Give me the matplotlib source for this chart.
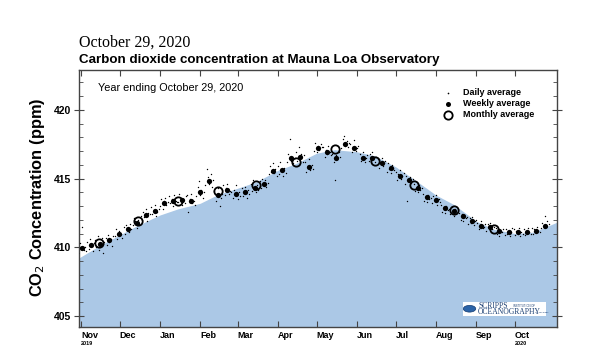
import pandas as pd
import matplotlib
matplotlib.use("Agg")
import matplotlib.pyplot as plt
import matplotlib.transforms as mtrans
from matplotlib.ticker import MultipleLocator
from matplotlib.patches import Rectangle, Circle

plt.rcParams["font.family"] = ["Liberation Sans", "DejaVu Sans"]

# smoothed seasonal curve (the blue area)
curve_dates = ["2019-10-30", "2019-11-15", "2019-12-01", "2019-12-15", "2020-01-01",
               "2020-01-15", "2020-02-01", "2020-02-15", "2020-03-01", "2020-03-15",
               "2020-04-01", "2020-04-15", "2020-05-01", "2020-05-15", "2020-06-01",
               "2020-06-15", "2020-07-01", "2020-07-15", "2020-08-01", "2020-08-15",
               "2020-09-01", "2020-09-15", "2020-10-01", "2020-10-15", "2020-11-03"]
curve_ppm = [409.2, 410.1, 410.9, 411.6, 412.35, 412.8, 413.2, 413.85, 414.3, 414.75,
             415.6, 416.1, 416.85, 417.1, 416.95, 416.65, 415.85, 414.95, 413.8, 413.1,
             411.9, 411.3, 411.0, 411.1, 411.85]

# monthly averages (mid month)
monthly_dates = ["2019-11-15", "2019-12-15", "2020-01-15", "2020-02-15", "2020-03-15",
                 "2020-04-15", "2020-05-15", "2020-06-15", "2020-07-15", "2020-08-15",
                 "2020-09-15"]
monthly_ppm = [410.3, 411.9, 413.4, 414.1, 414.5, 416.2, 417.15, 416.3, 414.5, 412.7, 411.3]

# weekly averages
weekly_start = "2019-11-02"
weekly_ppm = [409.93, 410.19, 410.22, 410.53, 410.97, 411.31, 411.79, 412.33, 412.62, 413.2,
              413.4, 413.45, 413.37, 414.0, 414.83, 413.81, 414.17, 413.9, 414.0, 414.34,
              414.6, 415.58, 415.61, 416.48, 416.6, 415.87, 417.2, 416.96, 416.53, 417.5,
              417.2, 416.53, 416.53, 416.12, 415.75, 415.22, 414.9, 414.3, 413.64, 413.45,
              412.84, 412.67, 412.28, 411.9, 411.57, 411.5, 411.19, 411.1, 411.1, 411.14,
              411.21, 411.57]

# daily averages, one row per week
daily_start = "2019-10-30"
daily_ppm = [
    409.6, 410.3, 409.9, 411.5, 409.8, 410.0, 409.7,
    410.4, 409.9, 410.6, 410.1, 409.7, 410.3, 410.5,
    410.0, 410.8, 409.8, 410.3, 410.7, 409.6, 410.4,
    410.7, 410.2, 410.9, 410.4, 410.6, 410.1, 410.8,
    410.8, 411.3, 410.6, 411.2, 410.9, 411.0, 410.7,
    411.5, 411.0, 411.6, 411.2, 411.1, 411.7, 411.3,
    411.6, 412.1, 411.9, 411.4, 412.0, 411.7, 412.3,
    412.0, 412.6, 412.2, 412.8, 411.9, 412.5, 412.4,
    412.9, 412.4, 412.7, 413.1, 412.3, 412.6, 412.8,
    413.0, 413.5, 412.8, 413.4, 413.6, 413.1, 413.3,
    413.7, 413.2, 413.5, 413.0, 413.8, 413.4, 413.3,
    413.3, 413.9, 413.6, 413.1, 413.5, 413.2, 413.7,
    413.8, 412.6, 413.5, 413.9, 413.2, 413.4, 413.1,
    413.7, 414.4, 414.8, 413.8, 414.2, 413.6, 414.0,
    414.5, 415.7, 415.1, 414.6, 415.3, 414.4, 414.9,
    414.1, 413.4, 413.9, 414.3, 413.0, 413.6, 413.9,
    414.5, 413.8, 414.3, 414.6, 413.9, 414.1, 414.0,
    413.6, 414.2, 413.8, 414.5, 413.5, 414.0, 413.7,
    414.3, 413.7, 414.1, 414.4, 413.6, 414.2, 413.9,
    414.6, 414.1, 414.9, 414.3, 414.0, 414.5, 414.2,
    414.8, 414.3, 415.0, 414.5, 414.9, 414.4, 414.7,
    415.3, 415.9, 415.5, 416.1, 415.4, 415.7, 415.2,
    415.9, 415.3, 416.2, 415.6, 415.2, 415.8, 415.4,
    416.2, 416.8, 417.9, 416.3, 416.6, 416.1, 416.5,
    416.9, 416.3, 417.3, 416.5, 416.8, 416.2, 416.7,
    416.2, 415.5, 415.9, 416.4, 415.6, 416.0, 415.7,
    417.0, 417.6, 416.9, 417.4, 417.1, 417.5, 417.3,
    417.3, 416.6, 417.1, 416.8, 417.4, 416.9, 416.7,
    416.8, 416.2, 414.9, 416.7, 416.4, 416.9, 416.6,
    417.2, 417.9, 418.1, 417.4, 417.7, 417.3, 417.6,
    417.5, 416.9, 417.3, 417.8, 417.0, 417.2, 417.4,
    416.8, 416.3, 416.6, 416.9, 416.2, 416.5, 416.7,
    416.3, 416.8, 416.4, 416.9, 416.5, 416.2, 416.6,
    416.4, 415.8, 416.2, 416.5, 415.9, 416.1, 416.3,
    415.5, 416.1, 415.7, 415.4, 416.0, 415.8, 415.6,
    415.5, 414.9, 415.3, 415.6, 415.0, 415.2, 415.4,
    414.6, 415.2, 413.4, 414.8, 415.1, 414.7, 415.0,
    414.6, 414.1, 414.4, 414.0, 414.5, 414.2, 414.3,
    413.9, 413.4, 413.7, 413.3, 413.8, 413.5, 413.6,
    413.2, 413.7, 413.4, 413.8, 413.1, 413.5, 413.3,
    413.1, 412.6, 412.9, 412.5, 413.0, 412.7, 412.8,
    412.4, 412.9, 412.6, 412.3, 412.8, 412.5, 412.7,
    412.5, 412.0, 412.4, 411.9, 412.3, 412.1, 412.2,
    411.7, 412.1, 411.8, 412.2, 411.6, 411.9, 412.0,
    411.8, 411.3, 411.6, 411.9, 411.4, 411.5, 411.7,
    411.2, 411.7, 411.4, 411.8, 411.3, 411.6, 411.5,
    411.4, 411.0, 411.3, 410.8, 411.2, 411.1, 411.3,
    410.9, 411.3, 411.0, 411.2, 410.8, 411.1, 411.4,
    411.3, 410.9, 411.2, 411.0, 411.4, 410.8, 411.1,
    411.0, 411.3, 410.9, 411.2, 411.4, 411.1, 411.0,
    411.4, 411.0, 411.3, 411.1, 411.5, 411.2, 411.1,
    411.4, 411.8, 411.5, 412.3, 411.6, 411.9, 411.7,
]

month_labels = ["Nov", "Dec", "Jan", "Feb", "Mar", "Apr", "May", "Jun", "Jul", "Aug", "Sep", "Oct"]
month_ticks = pd.date_range("2019-11-01", periods=12, freq="MS")
y_ticks = [405, 410, 415, 420]

curve_x = pd.to_datetime(curve_dates)
monthly_x = pd.to_datetime(monthly_dates)
weekly_x = pd.date_range(weekly_start, periods=len(weekly_ppm), freq="7D")
daily_x = pd.date_range(daily_start, periods=len(daily_ppm), freq="D")

fig = plt.figure(figsize=(6, 3.6), dpi=100)
ax = fig.add_axes([79 / 600, 1 - 327 / 360, 478 / 600, 257 / 360])

ymin, ymax = 404.2, 422.9
ax.fill_between(curve_x, curve_ppm, ymin, color="#abc8e6", lw=0, zorder=1)
ax.plot(daily_x, daily_ppm, "o", color="black", ms=1.0, mew=0, zorder=3)
ax.plot(weekly_x, weekly_ppm, "o", color="black", ms=3.8, mew=0, zorder=4)
ax.plot(monthly_x, monthly_ppm, "o", mfc="none", mec="black", ms=6, mew=1.3, zorder=5)

ax.set_xlim(pd.Timestamp("2019-10-30 12:00"), pd.Timestamp("2020-11-02 10:00"))
ax.set_ylim(ymin, ymax)

ax.set_xticks(month_ticks)
ax.set_xticklabels(month_labels, fontsize=6.5, fontweight="bold", ha="left")
ax.tick_params(axis="x", which="major", direction="in", length=4, top=True,
               pad=3, color="#444444")
ax.set_yticks(y_ticks)
ax.set_yticklabels([str(v) for v in y_ticks], fontsize=7.5, fontweight="bold")
ax.yaxis.set_minor_locator(MultipleLocator(1))
ax.tick_params(axis="y", which="major", direction="inout", length=7, right=True,
               pad=2, color="#444444")
ax.tick_params(axis="y", which="minor", direction="in", length=3, right=True,
               color="#444444")
for s in ax.spines.values():
    s.set_color("#444444")
    s.set_linewidth(1.0)

# year under first and last month
tr = mtrans.blended_transform_factory(ax.transData, ax.transAxes)
ax.text(month_ticks[0], -0.065, "2019", transform=tr, fontsize=4, fontweight="bold",
        ha="left", va="center")
ax.text(month_ticks[-1], -0.065, "2020", transform=tr, fontsize=4, fontweight="bold",
        ha="left", va="center")

ax.text(0.04, 0.93, "Year ending October 29, 2020", transform=ax.transAxes,
        fontsize=7.8, va="center")

# legend
ax.plot([0.772], [0.911], "o", color="black", ms=1.2, mew=0, transform=ax.transAxes)
ax.plot([0.772], [0.868], "o", color="black", ms=3.6, mew=0, transform=ax.transAxes)
ax.plot([0.772], [0.826], "o", mfc="none", mec="black", ms=6, mew=1.3,
        transform=ax.transAxes)
for yy, txt in zip([0.911, 0.868, 0.826], ["Daily average", "Weekly average", "Monthly average"]):
    ax.text(0.803, yy, txt, transform=ax.transAxes, fontsize=6.5, fontweight="bold",
            va="center")

# Scripps logo
ax.add_patch(Rectangle((0.803, 0.043), 0.175, 0.056, transform=ax.transAxes,
                       facecolor="white", edgecolor="none", zorder=6))
ax.add_patch(Circle((0.817, 0.071), 0.013, transform=ax.transAxes,
                    facecolor="#2b64a8", edgecolor="#123a70", lw=0.5, zorder=7))
ax.text(0.835, 0.083, "SCRIPPS", transform=ax.transAxes, family="Liberation Serif",
        fontsize=5.5, va="center", color="#1b3f73", zorder=8)
ax.text(0.908, 0.083, "INSTITUTION OF", transform=ax.transAxes, fontsize=2,
        va="center", color="#1b3f73", zorder=8)
ax.text(0.835, 0.057, "OCEANOGRAPHY", transform=ax.transAxes, family="Liberation Serif",
        fontsize=5.5, va="center", color="#1b3f73", zorder=8)
ax.text(0.955, 0.055, "UC San Diego", transform=ax.transAxes, fontsize=1.5,
        va="center", color="#1b3f73", zorder=8)

fig.text(79 / 600, 1 - 43 / 360, "October 29, 2020", family="Liberation Serif",
         fontsize=11.5, va="center", ha="left")
fig.text(79 / 600, 1 - 60 / 360, "Carbon dioxide concentration at Mauna Loa Observatory",
         fontsize=9.6, fontweight="bold", va="center", ha="left")
fig.text(38 / 600, 1 - 197 / 360, "CO$_2$ Concentration (ppm)", fontsize=11.8,
         fontweight="bold", rotation=90, va="center", ha="center")

fig.savefig("out.png", dpi=100)
